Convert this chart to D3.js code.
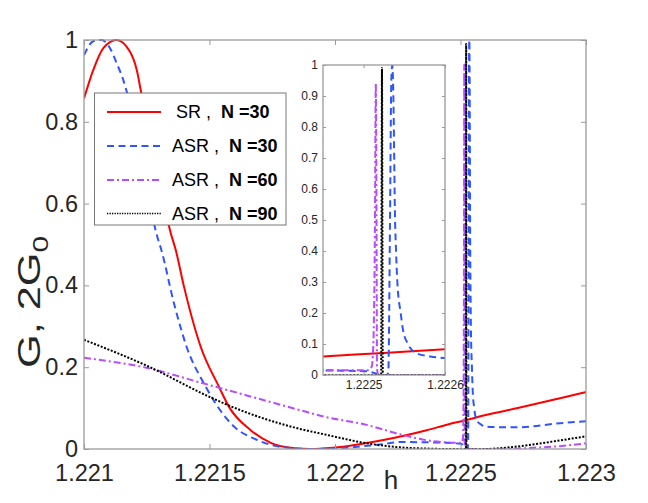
<!DOCTYPE html>
<html><head><meta charset="utf-8">
<script src="https://cdn.jsdelivr.net/npm/d3@7"></script>
<style>
html,body{margin:0;padding:0;background:#fff;}
svg{display:block;font-family:"Liberation Sans",Arial,sans-serif;}
</style></head>
<body><svg id="chart" width="648" height="503"></svg>
<script>
// ---------- data ----------
const hTicks = [1.221, 1.2215, 1.222, 1.2225, 1.223];
const gTicks = [0, 0.2, 0.4, 0.6, 0.8, 1];
const insetHTicks = [1.2225, 1.2226];
const insetGTicks = [0, 0.1, 0.2, 0.3, 0.4, 0.5, 0.6, 0.7, 0.8, 0.9, 1];
const seriesNames = ["SR", "ASR", "ASR", "ASR"];
const seriesN = ["N =30", "N =30", "N =60", "N =90"];

const srH = [1.221, 1.2210371, 1.2210769, 1.2211295, 1.2211833, 1.22121, 1.2212271, 1.2212629, 1.2213028, 1.2213446, 1.2213653, 1.2213984, 1.2214649, 1.2215378, 1.2215777, 1.2216641, 1.2217438, 1.2218367, 1.2219, 1.221992, 1.2221924, 1.2223653, 1.22245, 1.2225247, 1.2226, 1.2227239, 1.2228964, 1.223];
const srG = [0.857, 0.927, 0.98, 1.0, 0.971, 0.927, 0.874, 0.77, 0.65, 0.53, 0.487, 0.397, 0.25, 0.152, 0.103, 0.046, 0.015, 0.002, 0.0, 0.003, 0.022, 0.046, 0.06, 0.071, 0.083, 0.0995, 0.124, 0.139];

const asr30H = [1.221, 1.2210371, 1.2210697, 1.2211036, 1.2211303, 1.2211566, 1.2211701, 1.2212, 1.221245, 1.221292, 1.221308, 1.2213586, 1.2214116, 1.2214781, 1.2215311, 1.2215976, 1.2216904, 1.2217968, 1.2219, 1.2220598, 1.2221912, 1.222259, 1.2223904, 1.22245, 1.2225037, 1.2225099, 1.2225164, 1.2225201, 1.2225287, 1.2225303, 1.2225324, 1.222534, 1.2225352, 1.2225365, 1.2225386, 1.2225398, 1.2225414, 1.2225455, 1.2225484, 1.2225545, 1.2225652, 1.2225816, 1.2225975, 1.2226175, 1.2227239, 1.2228964, 1.223];
const asr30G = [0.963, 0.997, 1.0, 0.98, 0.943, 0.902, 0.874, 0.79, 0.65, 0.519, 0.487, 0.356, 0.245, 0.16, 0.105, 0.055, 0.022, 0.004, 0.0, 0.004, 0.012, 0.017, 0.016, 0.015, 0.012, 0.009, 0.004, 0.001, 0.0, 0.01, 0.5, 0.95, 1.0, 0.9, 0.5, 0.4, 0.3, 0.2, 0.145, 0.1, 0.07, 0.06, 0.055, 0.054, 0.053, 0.063, 0.068];

const asr60H = [1.221, 1.2212522, 1.2214781, 1.2218606, 1.2219562, 1.2221263, 1.222259, 1.2223916, 1.22245, 1.2225037, 1.2225099, 1.2225118, 1.2225139, 1.2225149, 1.2225158, 1.2225164, 1.222518, 1.2226, 1.2227, 1.2227888, 1.2228964, 1.223];
const asr60G = [0.223, 0.198, 0.16, 0.095, 0.079, 0.059, 0.036, 0.019, 0.016, 0.015, 0.027, 0.091, 0.5, 0.94, 0.5, 0.02, 0.0, 0.0, 0.0005, 0.003, 0.007, 0.014];

const asr90H = [1.221, 1.2212522, 1.2215048, 1.2215709, 1.2218606, 1.2219562, 1.2221263, 1.222259, 1.2223785, 1.22245, 1.2225215, 1.222522, 1.2225225, 1.222523, 1.2225235, 1.2226, 1.2226574, 1.2227888, 1.2228964, 1.223];
const asr90G = [0.267, 0.203, 0.126, 0.108, 0.049, 0.036, 0.014, 0.004, 0.0008, 0.0, 0.0, 0.5, 0.99, 0.5, 0.0, 0.0, 0.002, 0.011, 0.021, 0.031];

// ---------- setup ----------
const svg = d3.select("#chart");
const M = {l: 84, r: 586, t: 40, b: 449};
const I = {l: 323, r: 445, t: 65, b: 375};
const textCol = "#262626", axisCol = "#9a9a9a";

const x = d3.scaleLinear().domain([hTicks[0], hTicks[hTicks.length-1]]).range([M.l, M.r]);
const y = d3.scaleLinear().domain([0, 1]).range([M.b, M.t]);
const xi = d3.scaleLinear().domain([1.22245, 1.2226]).range([I.l, I.r]);
const yi = d3.scaleLinear().domain([0, 1]).range([I.b, I.t]);

const styles = [
  {color: "#ff0000", dash: null, w: 2},
  {color: "#2f55ff", dash: "7,4.5", w: 2},
  {color: "#b84cff", dash: "7,3,2,3", w: 2},
  {color: "#000000", dash: "2,1.6", w: 2}
];
const data = [d3.zip(srH, srG), d3.zip(asr30H, asr30G), d3.zip(asr60H, asr60G), d3.zip(asr90H, asr90G)];

const defs = svg.append("defs");
defs.append("clipPath").attr("id", "clipMain").append("rect")
  .attr("x", M.l).attr("y", M.t - 1).attr("width", M.r - M.l).attr("height", M.b - M.t + 1);
defs.append("clipPath").attr("id", "clipInset").append("rect")
  .attr("x", I.l).attr("y", I.t).attr("width", I.r - I.l).attr("height", I.b - I.t);

function styleAxis(g, fs) {
  g.select(".domain").remove();
  g.selectAll(".tick line").attr("stroke", axisCol).attr("stroke-width", 1);
  g.selectAll(".tick text").attr("fill", textCol).style("font-size", fs + "px");
}

function drawAxes(xs, ys, box, xt, yt, fs, tick, padX, padY) {
  const gx = svg.append("g").attr("transform", `translate(0,${box.b})`)
    .call(d3.axisBottom(xs).tickValues(xt).tickSizeInner(-tick).tickSizeOuter(0).tickPadding(padX).tickFormat(d3.format("")));
  styleAxis(gx, fs);
  const gxt = svg.append("g").attr("transform", `translate(0,${box.t})`)
    .call(d3.axisTop(xs).tickValues(xt).tickSizeInner(-tick).tickSizeOuter(0).tickFormat(""));
  styleAxis(gxt, fs);
  const gy = svg.append("g").attr("transform", `translate(${box.l},0)`)
    .call(d3.axisLeft(ys).tickValues(yt).tickSizeInner(-tick).tickSizeOuter(0).tickPadding(padY).tickFormat(d3.format("")));
  styleAxis(gy, fs);
  const gyr = svg.append("g").attr("transform", `translate(${box.r},0)`)
    .call(d3.axisRight(ys).tickValues(yt).tickSizeInner(-tick).tickSizeOuter(0).tickFormat(""));
  styleAxis(gyr, fs);
  svg.append("rect").attr("x", box.l).attr("y", box.t).attr("width", box.r - box.l).attr("height", box.b - box.t)
    .attr("fill", "none").attr("stroke", axisCol).attr("stroke-width", 1.3);
}

function drawLines(xs, ys, clip) {
  const line = d3.line().x(d => xs(d[0])).y(d => ys(d[1])).curve(d3.curveMonotoneX);
  const g = svg.append("g").attr("clip-path", `url(#${clip})`);
  data.forEach((d, i) => {
    g.append("path").datum(d).attr("d", line).attr("fill", "none")
      .attr("stroke", styles[i].color).attr("stroke-width", styles[i].w)
      .attr("stroke-dasharray", styles[i].dash).attr("stroke-linejoin", "round");
  });
}

// ---------- main axes ----------
svg.append("rect").attr("x", M.l).attr("y", M.t).attr("width", M.r - M.l).attr("height", M.b - M.t).attr("fill", "#fff");
drawLines(x, y, "clipMain");
drawAxes(x, y, M, hTicks, gTicks, 23.5, 5, 15, 6);

// axis labels
svg.append("text").attr("x", 391).attr("y", 489).attr("text-anchor", "middle")
  .attr("fill", textCol).style("font-size", "26px").text("h");
const yl = svg.append("text").attr("transform", "translate(40,302) rotate(-90)")
  .attr("text-anchor", "middle").attr("fill", textCol).style("font-size", "32px")
  .attr("textLength", 132).attr("lengthAdjust", "spacingAndGlyphs");
yl.append("tspan").text("G, 2G");
yl.append("tspan").attr("dy", 8).style("font-size", "22px").text("0");

// ---------- inset ----------
svg.append("rect").attr("x", I.l).attr("y", I.t).attr("width", I.r - I.l).attr("height", I.b - I.t).attr("fill", "#fff");
drawLines(xi, yi, "clipInset");
drawAxes(xi, yi, I, insetHTicks, insetGTicks, 12, 3, 5, 5);

// ---------- legend ----------
const L = {x: 94.5, y: 93, w: 191.5, h: 132};
const lg = svg.append("g");
lg.append("rect").attr("x", L.x).attr("y", L.y).attr("width", L.w).attr("height", L.h)
  .attr("fill", "#fff").attr("stroke", "#777").attr("stroke-width", 1);
const rowY = [112, 146, 180, 213.5];
const textX = [176, 172, 172, 172];
seriesNames.forEach((nm, i) => {
  lg.append("line").attr("x1", 107).attr("x2", 161).attr("y1", rowY[i]).attr("y2", rowY[i])
    .attr("stroke", styles[i].color).attr("stroke-width", i === 3 ? 1.5 : 2)
    .attr("stroke-dasharray", i === 3 ? "1.3,1.2" : styles[i].dash);
  const t = lg.append("text").attr("x", textX[i]).attr("y", rowY[i]).attr("dy", "0.35em")
    .attr("fill", "#000").style("font-size", "18px").style("white-space", "pre");
  t.append("tspan").text(nm + " ,  ");
  t.append("tspan").style("font-weight", "bold").text(seriesN[i]);
});
</script></body></html>
